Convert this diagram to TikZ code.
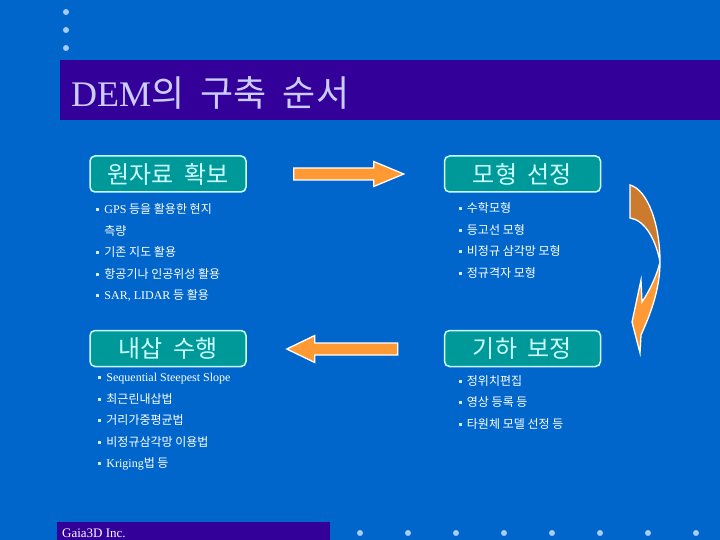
\documentclass[tikz,border=0pt]{standalone}
\usepackage{fontspec}
\setmainfont{Liberation Serif}
\newfontfamily\kr{Noto Sans CJK KR}
\usetikzlibrary{positioning,calc}
\definecolor{bgblue}{HTML}{0066CC}
\definecolor{barpurple}{HTML}{330099}
\definecolor{boxteal}{HTML}{009999}
\definecolor{boxline}{HTML}{CCFFFF}
\definecolor{titletext}{HTML}{CCCCFF}
\definecolor{arrowor}{HTML}{FF9933}
\definecolor{arrowdark}{HTML}{CC7A2E}
\definecolor{dotblue}{HTML}{A8CCF0}
\newcommand{\bul}{\textcolor{white!85!bgblue}{\rule[2.5pt]{3pt}{3pt}}\hspace{5pt}}
\newcommand{\wsp}{\hspace{0.45em}}

\begin{document}
\begin{tikzpicture}[x=1pt, y=-1pt,
  block/.style={rectangle, draw=boxline, line width=1.5pt, rounded corners=5pt, fill=boxteal, minimum height=36pt, minimum width=156pt, inner sep=0pt, text=boxline, font=\kr\fontsize{24}{24}\selectfont},
  list/.style={anchor=north west, inner sep=0pt, align=left, text=white, font=\kr\fontsize{12}{21.5}\selectfont},
  blockarrow/.style={draw=white, line width=1.3pt, fill=arrowor, line join=miter},
  dot/.style={circle, fill=dotblue, inner sep=0pt, minimum size=6pt}]
\fill[bgblue] (0,0) rectangle (720,540);
\useasboundingbox (0,0) rectangle (720,540);
% title bar
\foreach \y in {12,30,48} \node[dot] (d\y) at (66,\y) {};
\fill[barpurple] (60,60) rectangle (720,120);
\node[anchor=base west, inner sep=0pt, text=titletext, font=\fontsize{36}{36}\selectfont] (title) at (71,107) {DEM{\kr 의\wsp 구축\wsp 순서}};
% steps
\node[block] (raw) at (168,174) {원자료\wsp 확보};
\node[block, right=197pt of raw] (model) {모형\wsp 선정};
\node[block, below=137pt of raw] (interp) {내삽\wsp 수행};
\node[block, right=197pt of interp] (geom) {기하\wsp 보정};
\node[list] (rawlist) at ($(raw.south west)+(7,11)$) {\bul{\rmfamily GPS} 등을 활용한 현지\\\hspace*{8pt}측량\\\bul 기존 지도 활용\\\bul 항공기나 인공위성 활용\\\bul{\rmfamily SAR, LIDAR} 등 활용};
\node[list] (modellist) at ($(model.south west)+(15,10)$) {\bul 수학모형\\\bul 등고선 모형\\\bul 비정규 삼각망 모형\\\bul 정규격자 모형};
\node[list] (interplist) at ($(interp.south west)+(9,6)$) {\bul{\rmfamily Sequential Steepest Slope}\\\bul 최근린내삽법\\\bul 거리가중평균법\\\bul 비정규삼각망 이용법\\\bul{\rmfamily Kriging}법 등};
\node[list] (geomlist) at ($(geom.south west)+(15,8)$) {\bul 정위치편집\\\bul 영상 등록 등\\\bul 타원체 모델 선정 등};
% arrows
\draw[blockarrow] ($(raw.east)+(47,-6)$) -- ++(80,0) -- ++(0,-6.5) -- ++(30,12.5) -- ++(-30,12.5) -- ++(0,-6.5) -- ++(-80,0) -- cycle;
\draw[blockarrow] ($(interp.east)+(40,0.5)$) -- ++(28,-13.5) -- ++(0,7.5) -- ++(83,0) -- ++(0,12) -- ++(-83,0) -- ++(0,7.5) -- cycle;
\draw[blockarrow, fill=arrowdark] (630,185) .. controls (648,190) and (660,225) .. (660,262) .. controls (656,240) and (645,220) .. (630,218) -- cycle;
\draw[blockarrow] (660,262) .. controls (660,290) and (650,315) .. (641,335) -- (640,353) -- (632,322) -- (641,280) -- (642,302) .. controls (650,290) and (657,275) .. (660,262);
% footer
\fill[barpurple] (57,522) rectangle (330,540);
\node[anchor=base west, inner sep=0pt, text=white, font=\fontsize{13}{13}\selectfont] (firm) at (62,537) {Gaia3D Inc.};
\foreach \i in {0,...,7} \node[dot] (b\i) at (360+48*\i,533) {};
\end{tikzpicture}
\end{document}
